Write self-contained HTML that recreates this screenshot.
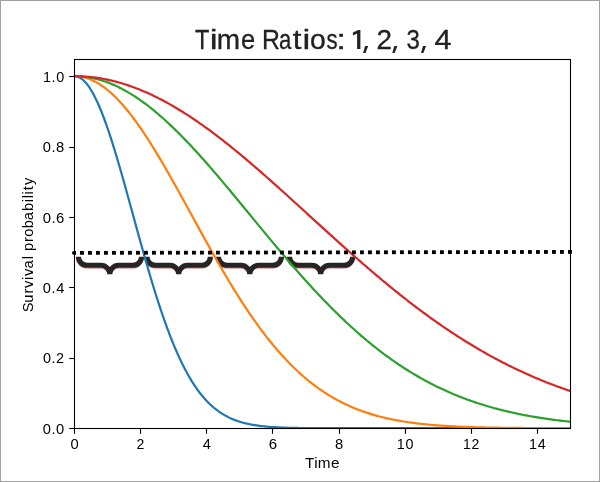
<!DOCTYPE html>
<html><head><meta charset="utf-8"><title>Time Ratios</title>
<style>
html,body{margin:0;padding:0;background:#fff;}
body{width:600px;height:482px;overflow:hidden;}
svg{display:block;will-change:transform;}
text{font-family:"Liberation Sans",sans-serif;}
</style></head><body>
<svg width="600" height="482" viewBox="0 0 600 482">
<rect x="0" y="0" width="600" height="482" fill="#ffffff"/>
<defs><clipPath id="ax"><rect x="74.5" y="59.5" width="496.0" height="369.0"/></clipPath></defs>
<g fill="none" stroke="#dc9a9a" stroke-width="5" stroke-linejoin="miter" stroke-linecap="butt" transform="translate(-0.2,0.9)">
<path d="M78.50,256.80 C78.50,261.49 82.39,265.30 87.20,265.30 L101.10,265.30 C105.91,265.30 109.80,268.75 109.80,273.00 C109.80,268.75 113.69,265.30 118.50,265.30 L132.80,265.30 C137.61,265.30 141.50,261.49 141.50,256.80"/>
<path d="M147.00,256.80 C147.00,261.49 150.89,265.30 155.70,265.30 L170.00,265.30 C174.81,265.30 178.70,268.75 178.70,273.00 C178.70,268.75 182.59,265.30 187.40,265.30 L201.70,265.30 C206.51,265.30 210.40,261.49 210.40,256.80"/>
<path d="M218.50,256.80 C218.50,261.49 222.39,265.30 227.20,265.30 L241.10,265.30 C245.91,265.30 249.80,268.75 249.80,273.00 C249.80,268.75 253.69,265.30 258.50,265.30 L272.70,265.30 C277.51,265.30 281.40,261.49 281.40,256.80"/>
<path d="M289.50,256.80 C289.50,261.49 293.39,265.30 298.20,265.30 L312.00,265.30 C316.81,265.30 320.70,268.75 320.70,273.00 C320.70,268.75 324.59,265.30 329.40,265.30 L344.00,265.30 C348.81,265.30 352.70,261.49 352.70,256.80"/>
</g>
<g fill="none" stroke="#262424" stroke-width="5.1" stroke-linejoin="miter" stroke-linecap="butt">
<path d="M78.50,256.80 C78.50,261.49 82.39,265.30 87.20,265.30 L101.10,265.30 C105.91,265.30 109.80,269.33 109.80,274.30 C109.80,269.33 113.69,265.30 118.50,265.30 L132.80,265.30 C137.61,265.30 141.50,261.49 141.50,256.80"/>
<path d="M147.00,256.80 C147.00,261.49 150.89,265.30 155.70,265.30 L170.00,265.30 C174.81,265.30 178.70,269.33 178.70,274.30 C178.70,269.33 182.59,265.30 187.40,265.30 L201.70,265.30 C206.51,265.30 210.40,261.49 210.40,256.80"/>
<path d="M218.50,256.80 C218.50,261.49 222.39,265.30 227.20,265.30 L241.10,265.30 C245.91,265.30 249.80,269.33 249.80,274.30 C249.80,269.33 253.69,265.30 258.50,265.30 L272.70,265.30 C277.51,265.30 281.40,261.49 281.40,256.80"/>
<path d="M289.50,256.80 C289.50,261.49 293.39,265.30 298.20,265.30 L312.00,265.30 C316.81,265.30 320.70,269.33 320.70,274.30 C320.70,269.33 324.59,265.30 329.40,265.30 L344.00,265.30 C348.81,265.30 352.70,261.49 352.70,256.80"/>
</g>
<g clip-path="url(#ax)" fill="none" stroke-width="2.2" stroke-linejoin="round" stroke-linecap="butt">
<polyline stroke="#1f77b4" points="74.50,76.20 76.15,76.34 77.81,76.76 79.46,77.46 81.11,78.45 82.77,79.70 84.42,81.23 86.07,83.03 87.73,85.10 89.38,87.42 91.03,90.00 92.69,92.83 94.34,95.90 95.99,99.21 97.65,102.74 99.30,106.50 100.95,110.46 102.61,114.63 104.26,118.99 105.91,123.53 107.57,128.25 109.22,133.12 110.87,138.16 112.53,143.33 114.18,148.64 115.83,154.06 117.49,159.60 119.14,165.23 120.79,170.95 122.45,176.75 124.10,182.62 125.75,188.54 127.41,194.50 129.06,200.50 130.71,206.52 132.37,212.56 134.02,218.59 135.67,224.63 137.33,230.64 138.98,236.63 140.63,242.59 142.29,248.51 143.94,254.38 145.59,260.19 147.25,265.93 148.90,271.61 150.55,277.21 152.21,282.72 153.86,288.15 155.51,293.48 157.17,298.71 158.82,303.83 160.47,308.85 162.13,313.76 163.78,318.56 165.43,323.23 167.09,327.79 168.74,332.23 170.39,336.55 172.05,340.74 173.70,344.80 175.35,348.74 177.01,352.56 178.66,356.25 180.31,359.81 181.97,363.25 183.62,366.56 185.27,369.76 186.93,372.83 188.58,375.78 190.23,378.62 191.89,381.34 193.54,383.94 195.19,386.44 196.85,388.82 198.50,391.10 200.15,393.27 201.81,395.35 203.46,397.32 205.11,399.20 206.77,400.99 208.42,402.69 210.07,404.30 211.73,405.82 213.38,407.27 215.03,408.64 216.69,409.93 218.34,411.15 219.99,412.30 221.65,413.39 223.30,414.41 224.95,415.38 226.61,416.28 228.26,417.13 229.91,417.93 231.57,418.68 233.22,419.38 234.87,420.03 236.53,420.65 238.18,421.22 239.83,421.75 241.49,422.25 243.14,422.71 244.79,423.15 246.45,423.55 248.10,423.92 249.75,424.27 251.41,424.59 253.06,424.89 254.71,425.16 256.37,425.42 258.02,425.65 259.67,425.87 261.33,426.07 262.98,426.26 264.63,426.43 266.29,426.58 267.94,426.73 269.59,426.86 271.25,426.98 272.90,427.09 274.55,427.19 276.21,427.29 277.86,427.37 279.51,427.45 281.17,427.52 282.82,427.59 284.47,427.64 286.13,427.70 287.78,427.75 289.43,427.79 291.09,427.83 292.74,427.87 294.39,427.90 296.05,427.93 297.70,427.96 299.35,427.98 301.01,428.01 302.66,428.03 304.31,428.05 305.97,428.06 307.62,428.08 309.27,428.09 310.93,428.10 312.58,428.11 314.23,428.12 315.89,428.13 317.54,428.14 319.19,428.14 320.85,428.15 322.50,428.16 324.15,428.16 325.81,428.17 327.46,428.17 329.11,428.17 330.77,428.18 332.42,428.18 334.07,428.18 335.73,428.18 337.38,428.19 339.03,428.19 340.69,428.19 342.34,428.19 343.99,428.19 345.65,428.19 347.30,428.19 348.95,428.19 350.61,428.19 352.26,428.20 353.91,428.20 355.57,428.20 357.22,428.20 358.87,428.20 360.53,428.20 362.18,428.20 363.83,428.20 365.49,428.20 367.14,428.20 368.79,428.20 370.45,428.20 372.10,428.20 373.75,428.20 375.41,428.20 377.06,428.20 378.71,428.20 380.37,428.20 382.02,428.20 383.67,428.20 385.33,428.20 386.98,428.20 388.63,428.20 390.29,428.20 391.94,428.20 393.59,428.20 395.25,428.20 396.90,428.20 398.55,428.20 400.21,428.20 401.86,428.20 403.51,428.20 405.17,428.20 406.82,428.20 408.47,428.20 410.13,428.20 411.78,428.20 413.43,428.20 415.09,428.20 416.74,428.20 418.39,428.20 420.05,428.20 421.70,428.20 423.35,428.20 425.01,428.20 426.66,428.20 428.31,428.20 429.97,428.20 431.62,428.20 433.27,428.20 434.93,428.20 436.58,428.20 438.23,428.20 439.89,428.20 441.54,428.20 443.19,428.20 444.85,428.20 446.50,428.20 448.15,428.20 449.81,428.20 451.46,428.20 453.11,428.20 454.77,428.20 456.42,428.20 458.07,428.20 459.73,428.20 461.38,428.20 463.03,428.20 464.69,428.20 466.34,428.20 467.99,428.20 469.65,428.20 471.30,428.20 472.95,428.20 474.61,428.20 476.26,428.20 477.91,428.20 479.57,428.20 481.22,428.20 482.87,428.20 484.53,428.20 486.18,428.20 487.83,428.20 489.49,428.20 491.14,428.20 492.79,428.20 494.45,428.20 496.10,428.20 497.75,428.20 499.41,428.20 501.06,428.20 502.71,428.20 504.37,428.20 506.02,428.20 507.67,428.20 509.33,428.20 510.98,428.20 512.63,428.20 514.29,428.20 515.94,428.20 517.59,428.20 519.25,428.20 520.90,428.20 522.55,428.20 524.21,428.20 525.86,428.20 527.51,428.20 529.17,428.20 530.82,428.20 532.47,428.20 534.13,428.20 535.78,428.20 537.43,428.20 539.09,428.20 540.74,428.20 542.39,428.20 544.05,428.20 545.70,428.20 547.35,428.20 549.01,428.20 550.66,428.20 552.31,428.20 553.97,428.20 555.62,428.20 557.27,428.20 558.93,428.20 560.58,428.20 562.23,428.20 563.89,428.20 565.54,428.20 567.19,428.20 568.85,428.20 570.50,428.20"/>
<polyline stroke="#ff7f0e" points="74.50,76.20 76.15,76.24 77.81,76.34 79.46,76.52 81.11,76.76 82.77,77.08 84.42,77.46 86.07,77.92 87.73,78.45 89.38,79.04 91.03,79.70 92.69,80.43 94.34,81.23 95.99,82.10 97.65,83.03 99.30,84.03 100.95,85.10 102.61,86.23 104.26,87.42 105.91,88.68 107.57,90.00 109.22,91.39 110.87,92.83 112.53,94.34 114.18,95.90 115.83,97.53 117.49,99.21 119.14,100.95 120.79,102.74 122.45,104.59 124.10,106.50 125.75,108.45 127.41,110.46 129.06,112.52 130.71,114.63 132.37,116.78 134.02,118.99 135.67,121.24 137.33,123.53 138.98,125.87 140.63,128.25 142.29,130.67 143.94,133.12 145.59,135.62 147.25,138.16 148.90,140.73 150.55,143.33 152.21,145.97 153.86,148.64 155.51,151.33 157.17,154.06 158.82,156.82 160.47,159.60 162.13,162.40 163.78,165.23 165.43,168.08 167.09,170.95 168.74,173.84 170.39,176.75 172.05,179.68 173.70,182.62 175.35,185.57 177.01,188.54 178.66,191.51 180.31,194.50 181.97,197.50 183.62,200.50 185.27,203.51 186.93,206.52 188.58,209.54 190.23,212.56 191.89,215.57 193.54,218.59 195.19,221.61 196.85,224.63 198.50,227.64 200.15,230.64 201.81,233.64 203.46,236.63 205.11,239.62 206.77,242.59 208.42,245.56 210.07,248.51 211.73,251.45 213.38,254.38 215.03,257.29 216.69,260.19 218.34,263.07 219.99,265.93 221.65,268.78 223.30,271.61 224.95,274.42 226.61,277.21 228.26,279.98 229.91,282.72 231.57,285.44 233.22,288.15 234.87,290.82 236.53,293.48 238.18,296.10 239.83,298.71 241.49,301.28 243.14,303.83 244.79,306.36 246.45,308.85 248.10,311.32 249.75,313.76 251.41,316.17 253.06,318.56 254.71,320.91 256.37,323.23 258.02,325.53 259.67,327.79 261.33,330.03 262.98,332.23 264.63,334.40 266.29,336.55 267.94,338.66 269.59,340.74 271.25,342.78 272.90,344.80 274.55,346.79 276.21,348.74 277.86,350.66 279.51,352.56 281.17,354.42 282.82,356.25 284.47,358.04 286.13,359.81 287.78,361.54 289.43,363.25 291.09,364.92 292.74,366.56 294.39,368.18 296.05,369.76 297.70,371.31 299.35,372.83 301.01,374.32 302.66,375.78 304.31,377.22 305.97,378.62 307.62,379.99 309.27,381.34 310.93,382.65 312.58,383.94 314.23,385.20 315.89,386.44 317.54,387.64 319.19,388.82 320.85,389.97 322.50,391.10 324.15,392.20 325.81,393.27 327.46,394.32 329.11,395.35 330.77,396.35 332.42,397.32 334.07,398.27 335.73,399.20 337.38,400.11 339.03,400.99 340.69,401.85 342.34,402.69 343.99,403.50 345.65,404.30 347.30,405.07 348.95,405.82 350.61,406.56 352.26,407.27 353.91,407.96 355.57,408.64 357.22,409.29 358.87,409.93 360.53,410.55 362.18,411.15 363.83,411.74 365.49,412.30 367.14,412.86 368.79,413.39 370.45,413.91 372.10,414.41 373.75,414.90 375.41,415.38 377.06,415.84 378.71,416.28 380.37,416.71 382.02,417.13 383.67,417.54 385.33,417.93 386.98,418.31 388.63,418.68 390.29,419.03 391.94,419.38 393.59,419.71 395.25,420.03 396.90,420.35 398.55,420.65 400.21,420.94 401.86,421.22 403.51,421.49 405.17,421.75 406.82,422.01 408.47,422.25 410.13,422.49 411.78,422.71 413.43,422.93 415.09,423.15 416.74,423.35 418.39,423.55 420.05,423.74 421.70,423.92 423.35,424.10 425.01,424.27 426.66,424.43 428.31,424.59 429.97,424.74 431.62,424.89 433.27,425.03 434.93,425.16 436.58,425.29 438.23,425.42 439.89,425.54 441.54,425.65 443.19,425.76 444.85,425.87 446.50,425.97 448.15,426.07 449.81,426.16 451.46,426.26 453.11,426.34 454.77,426.43 456.42,426.51 458.07,426.58 459.73,426.66 461.38,426.73 463.03,426.79 464.69,426.86 466.34,426.92 467.99,426.98 469.65,427.04 471.30,427.09 472.95,427.14 474.61,427.19 476.26,427.24 477.91,427.29 479.57,427.33 481.22,427.37 482.87,427.41 484.53,427.45 486.18,427.49 487.83,427.52 489.49,427.55 491.14,427.59 492.79,427.62 494.45,427.64 496.10,427.67 497.75,427.70 499.41,427.72 501.06,427.75 502.71,427.77 504.37,427.79 506.02,427.81 507.67,427.83 509.33,427.85 510.98,427.87 512.63,427.89 514.29,427.90 515.94,427.92 517.59,427.93 519.25,427.95 520.90,427.96 522.55,427.97 524.21,427.98 525.86,428.00 527.51,428.01 529.17,428.02 530.82,428.03 532.47,428.04 534.13,428.05 535.78,428.05 537.43,428.06 539.09,428.07 540.74,428.08 542.39,428.08 544.05,428.09 545.70,428.10 547.35,428.10 549.01,428.11 550.66,428.11 552.31,428.12 553.97,428.12 555.62,428.13 557.27,428.13 558.93,428.13 560.58,428.14 562.23,428.14 563.89,428.14 565.54,428.15 567.19,428.15 568.85,428.15 570.50,428.16"/>
<polyline stroke="#2ca02c" points="74.50,76.20 76.15,76.22 77.81,76.26 79.46,76.34 81.11,76.45 82.77,76.59 84.42,76.76 86.07,76.97 87.73,77.20 89.38,77.46 91.03,77.76 92.69,78.09 94.34,78.45 95.99,78.83 97.65,79.25 99.30,79.70 100.95,80.18 102.61,80.69 104.26,81.23 105.91,81.80 107.57,82.40 109.22,83.03 110.87,83.69 112.53,84.38 114.18,85.10 115.83,85.84 117.49,86.62 119.14,87.42 120.79,88.25 122.45,89.11 124.10,90.00 125.75,90.92 127.41,91.86 129.06,92.83 130.71,93.83 132.37,94.85 134.02,95.90 135.67,96.98 137.33,98.08 138.98,99.21 140.63,100.36 142.29,101.54 143.94,102.74 145.59,103.97 147.25,105.22 148.90,106.50 150.55,107.79 152.21,109.12 153.86,110.46 155.51,111.83 157.17,113.22 158.82,114.63 160.47,116.06 162.13,117.51 163.78,118.99 165.43,120.48 167.09,122.00 168.74,123.53 170.39,125.08 172.05,126.65 173.70,128.25 175.35,129.85 177.01,131.48 178.66,133.12 180.31,134.79 181.97,136.46 183.62,138.16 185.27,139.87 186.93,141.59 188.58,143.33 190.23,145.08 191.89,146.85 193.54,148.64 195.19,150.43 196.85,152.24 198.50,154.06 200.15,155.90 201.81,157.74 203.46,159.60 205.11,161.47 206.77,163.34 208.42,165.23 210.07,167.13 211.73,169.04 213.38,170.95 215.03,172.88 216.69,174.81 218.34,176.75 219.99,178.70 221.65,180.66 223.30,182.62 224.95,184.59 226.61,186.56 228.26,188.54 229.91,190.52 231.57,192.51 233.22,194.50 234.87,196.50 236.53,198.50 238.18,200.50 239.83,202.50 241.49,204.51 243.14,206.52 244.79,208.53 246.45,210.54 248.10,212.56 249.75,214.57 251.41,216.58 253.06,218.59 254.71,220.61 256.37,222.62 258.02,224.63 259.67,226.63 261.33,228.64 262.98,230.64 264.63,232.64 266.29,234.64 267.94,236.63 269.59,238.62 271.25,240.61 272.90,242.59 274.55,244.57 276.21,246.54 277.86,248.51 279.51,250.47 281.17,252.43 282.82,254.38 284.47,256.32 286.13,258.26 287.78,260.19 289.43,262.11 291.09,264.03 292.74,265.93 294.39,267.83 296.05,269.73 297.70,271.61 299.35,273.48 301.01,275.35 302.66,277.21 304.31,279.05 305.97,280.89 307.62,282.72 309.27,284.54 310.93,286.35 312.58,288.15 314.23,289.93 315.89,291.71 317.54,293.48 319.19,295.23 320.85,296.97 322.50,298.71 324.15,300.43 325.81,302.14 327.46,303.83 329.11,305.52 330.77,307.19 332.42,308.85 334.07,310.50 335.73,312.14 337.38,313.76 339.03,315.37 340.69,316.97 342.34,318.56 343.99,320.13 345.65,321.69 347.30,323.23 348.95,324.77 350.61,326.29 352.26,327.79 353.91,329.29 355.57,330.76 357.22,332.23 358.87,333.68 360.53,335.12 362.18,336.55 363.83,337.96 365.49,339.35 367.14,340.74 368.79,342.10 370.45,343.46 372.10,344.80 373.75,346.13 375.41,347.44 377.06,348.74 378.71,350.03 380.37,351.30 382.02,352.56 383.67,353.80 385.33,355.03 386.98,356.25 388.63,357.45 390.29,358.64 391.94,359.81 393.59,360.97 395.25,362.12 396.90,363.25 398.55,364.37 400.21,365.47 401.86,366.56 403.51,367.64 405.17,368.71 406.82,369.76 408.47,370.80 410.13,371.82 411.78,372.83 413.43,373.83 415.09,374.81 416.74,375.78 418.39,376.74 420.05,377.69 421.70,378.62 423.35,379.54 425.01,380.44 426.66,381.34 428.31,382.22 429.97,383.09 431.62,383.94 433.27,384.79 434.93,385.62 436.58,386.44 438.23,387.24 439.89,388.04 441.54,388.82 443.19,389.59 444.85,390.35 446.50,391.10 448.15,391.84 449.81,392.56 451.46,393.27 453.11,393.98 454.77,394.67 456.42,395.35 458.07,396.02 459.73,396.67 461.38,397.32 463.03,397.96 464.69,398.59 466.34,399.20 467.99,399.81 469.65,400.40 471.30,400.99 472.95,401.56 474.61,402.13 476.26,402.69 477.91,403.23 479.57,403.77 481.22,404.30 482.87,404.81 484.53,405.32 486.18,405.82 487.83,406.31 489.49,406.80 491.14,407.27 492.79,407.73 494.45,408.19 496.10,408.64 497.75,409.08 499.41,409.51 501.06,409.93 502.71,410.35 504.37,410.75 506.02,411.15 507.67,411.54 509.33,411.93 510.98,412.30 512.63,412.67 514.29,413.04 515.94,413.39 517.59,413.74 519.25,414.08 520.90,414.41 522.55,414.74 524.21,415.06 525.86,415.38 527.51,415.69 529.17,415.99 530.82,416.28 532.47,416.57 534.13,416.85 535.78,417.13 537.43,417.40 539.09,417.67 540.74,417.93 542.39,418.18 544.05,418.43 545.70,418.68 547.35,418.92 549.01,419.15 550.66,419.38 552.31,419.60 553.97,419.82 555.62,420.03 557.27,420.24 558.93,420.45 560.58,420.65 562.23,420.84 563.89,421.03 565.54,421.22 567.19,421.40 568.85,421.58 570.50,421.75"/>
<polyline stroke="#d62728" points="74.50,76.20 76.15,76.21 77.81,76.24 79.46,76.28 81.11,76.34 82.77,76.42 84.42,76.52 86.07,76.63 87.73,76.76 89.38,76.91 91.03,77.08 92.69,77.26 94.34,77.46 95.99,77.68 97.65,77.92 99.30,78.17 100.95,78.45 102.61,78.73 104.26,79.04 105.91,79.36 107.57,79.70 109.22,80.06 110.87,80.43 112.53,80.82 114.18,81.23 115.83,81.66 117.49,82.10 119.14,82.56 120.79,83.03 122.45,83.52 124.10,84.03 125.75,84.56 127.41,85.10 129.06,85.65 130.71,86.23 132.37,86.82 134.02,87.42 135.67,88.04 137.33,88.68 138.98,89.33 140.63,90.00 142.29,90.69 143.94,91.39 145.59,92.10 147.25,92.83 148.90,93.58 150.55,94.34 152.21,95.11 153.86,95.90 155.51,96.71 157.17,97.53 158.82,98.36 160.47,99.21 162.13,100.07 163.78,100.95 165.43,101.84 167.09,102.74 168.74,103.66 170.39,104.59 172.05,105.54 173.70,106.50 175.35,107.47 177.01,108.45 178.66,109.45 180.31,110.46 181.97,111.48 183.62,112.52 185.27,113.57 186.93,114.63 188.58,115.70 190.23,116.78 191.89,117.88 193.54,118.99 195.19,120.11 196.85,121.24 198.50,122.38 200.15,123.53 201.81,124.69 203.46,125.87 205.11,127.05 206.77,128.25 208.42,129.45 210.07,130.67 211.73,131.89 213.38,133.12 215.03,134.37 216.69,135.62 218.34,136.88 219.99,138.16 221.65,139.44 223.30,140.73 224.95,142.02 226.61,143.33 228.26,144.64 229.91,145.97 231.57,147.30 233.22,148.64 234.87,149.98 236.53,151.33 238.18,152.69 239.83,154.06 241.49,155.44 243.14,156.82 244.79,158.20 246.45,159.60 248.10,161.00 249.75,162.40 251.41,163.82 253.06,165.23 254.71,166.66 256.37,168.08 258.02,169.52 259.67,170.95 261.33,172.40 262.98,173.84 264.63,175.30 266.29,176.75 267.94,178.21 269.59,179.68 271.25,181.15 272.90,182.62 274.55,184.09 276.21,185.57 277.86,187.05 279.51,188.54 281.17,190.02 282.82,191.51 284.47,193.01 286.13,194.50 287.78,196.00 289.43,197.50 291.09,199.00 292.74,200.50 294.39,202.00 296.05,203.51 297.70,205.01 299.35,206.52 301.01,208.03 302.66,209.54 304.31,211.05 305.97,212.56 307.62,214.07 309.27,215.57 310.93,217.08 312.58,218.59 314.23,220.10 315.89,221.61 317.54,223.12 319.19,224.63 320.85,226.13 322.50,227.64 324.15,229.14 325.81,230.64 327.46,232.14 329.11,233.64 330.77,235.14 332.42,236.63 334.07,238.13 335.73,239.62 337.38,241.11 339.03,242.59 340.69,244.08 342.34,245.56 343.99,247.04 345.65,248.51 347.30,249.98 348.95,251.45 350.61,252.92 352.26,254.38 353.91,255.84 355.57,257.29 357.22,258.74 358.87,260.19 360.53,261.63 362.18,263.07 363.83,264.50 365.49,265.93 367.14,267.36 368.79,268.78 370.45,270.20 372.10,271.61 373.75,273.02 375.41,274.42 377.06,275.82 378.71,277.21 380.37,278.59 382.02,279.98 383.67,281.35 385.33,282.72 386.98,284.09 388.63,285.44 390.29,286.80 391.94,288.15 393.59,289.49 395.25,290.82 396.90,292.15 398.55,293.48 400.21,294.79 401.86,296.10 403.51,297.41 405.17,298.71 406.82,300.00 408.47,301.28 410.13,302.56 411.78,303.83 413.43,305.10 415.09,306.36 416.74,307.61 418.39,308.85 420.05,310.09 421.70,311.32 423.35,312.55 425.01,313.76 426.66,314.97 428.31,316.17 429.97,317.37 431.62,318.56 433.27,319.74 434.93,320.91 436.58,322.08 438.23,323.23 439.89,324.39 441.54,325.53 443.19,326.66 444.85,327.79 446.50,328.91 448.15,330.03 449.81,331.13 451.46,332.23 453.11,333.32 454.77,334.40 456.42,335.48 458.07,336.55 459.73,337.60 461.38,338.66 463.03,339.70 464.69,340.74 466.34,341.76 467.99,342.78 469.65,343.80 471.30,344.80 472.95,345.80 474.61,346.79 476.26,347.77 477.91,348.74 479.57,349.71 481.22,350.66 482.87,351.61 484.53,352.56 486.18,353.49 487.83,354.42 489.49,355.34 491.14,356.25 492.79,357.15 494.45,358.04 496.10,358.93 497.75,359.81 499.41,360.68 501.06,361.54 502.71,362.40 504.37,363.25 506.02,364.09 507.67,364.92 509.33,365.75 510.98,366.56 512.63,367.37 514.29,368.18 515.94,368.97 517.59,369.76 519.25,370.54 520.90,371.31 522.55,372.07 524.21,372.83 525.86,373.58 527.51,374.32 529.17,375.06 530.82,375.78 532.47,376.50 534.13,377.22 535.78,377.92 537.43,378.62 539.09,379.31 540.74,379.99 542.39,380.67 544.05,381.34 545.70,382.00 547.35,382.65 549.01,383.30 550.66,383.94 552.31,384.58 553.97,385.20 555.62,385.82 557.27,386.44 558.93,387.04 560.58,387.64 562.23,388.23 563.89,388.82 565.54,389.40 567.19,389.97 568.85,390.54 570.50,391.10"/>
</g>
<rect x="74.5" y="59.5" width="496.0" height="369.0" fill="none" stroke="#000" stroke-width="1.1"/>
<g stroke="#000" stroke-width="1.1">
<line x1="74.50" y1="428.5" x2="74.50" y2="433.80"/>
<line x1="140.50" y1="428.5" x2="140.50" y2="433.80"/>
<line x1="206.50" y1="428.5" x2="206.50" y2="433.80"/>
<line x1="272.50" y1="428.5" x2="272.50" y2="433.80"/>
<line x1="339.50" y1="428.5" x2="339.50" y2="433.80"/>
<line x1="405.50" y1="428.5" x2="405.50" y2="433.80"/>
<line x1="471.50" y1="428.5" x2="471.50" y2="433.80"/>
<line x1="537.50" y1="428.5" x2="537.50" y2="433.80"/>
<line x1="74.5" y1="428.50" x2="69.20" y2="428.50"/>
<line x1="74.5" y1="358.50" x2="69.20" y2="358.50"/>
<line x1="74.5" y1="287.50" x2="69.20" y2="287.50"/>
<line x1="74.5" y1="217.50" x2="69.20" y2="217.50"/>
<line x1="74.5" y1="147.50" x2="69.20" y2="147.50"/>
<line x1="74.5" y1="76.50" x2="69.20" y2="76.50"/>
</g>
<g fill="#000">
<text transform="translate(0,449.00) scale(1.0061,1)" x="69.97" y="0" font-size="14.6px">0</text>
<text transform="translate(0,449.00) scale(0.9670,1)" x="141.18" y="0" font-size="14.6px">2</text>
<text transform="translate(0,449.00) scale(0.9984,1)" x="203.04" y="0" font-size="14.6px">4</text>
<text transform="translate(0,449.00) scale(1.0336,1)" x="259.97" y="0" font-size="14.6px">6</text>
<text transform="translate(0,449.00) scale(1.0120,1)" x="330.95" y="0" font-size="14.6px">8</text>
<text transform="translate(0,449.00) scale(0.9827,1)" x="403.70 412.73" y="0" font-size="14.6px">10</text>
<text transform="translate(0,449.00) scale(0.9620,1)" x="481.20 490.24" y="0" font-size="14.6px">12</text>
<text transform="translate(0,449.00) scale(0.9792,1)" x="540.21 549.30" y="0" font-size="14.6px">14</text>
<text transform="translate(0,433.80) scale(1.0079,1)" x="42.52 51.13 55.67" y="0" font-size="14.6px">0.0</text>
<text transform="translate(0,363.40) scale(0.9906,1)" x="43.33 52.05 56.54" y="0" font-size="14.6px">0.2</text>
<text transform="translate(0,293.00) scale(1.0043,1)" x="42.69 51.32 55.91" y="0" font-size="14.6px">0.4</text>
<text transform="translate(0,222.60) scale(1.0202,1)" x="41.96 50.48 54.96" y="0" font-size="14.6px">0.6</text>
<text transform="translate(0,152.20) scale(1.0106,1)" x="42.40 50.98 55.53" y="0" font-size="14.6px">0.8</text>
<text transform="translate(0,81.80) scale(0.9868,1)" x="43.48 52.26 56.95" y="0" font-size="14.6px">1.0</text>
<text transform="translate(0,467.90) scale(1.0518,1)" x="290.05 298.75 302.17 314.68" y="0" font-size="14.6px">Time</text>
<g transform="translate(32.8,311.76) rotate(-90)"><text transform="translate(0,0.00) scale(1.0072,1)" x="-0.41 9.03 18.13 23.60 31.63 35.59 42.97 52.07 55.60 60.37 69.37 74.56 82.93 90.95 100.13 108.80 112.64 116.47 120.64 125.84" y="0" font-size="14.6px">Survival probability</text>
</g>
</g>
<g fill="#000">
<path d="M76,251.00 L74,251.00 Q72,251.00 72,252.90 Q72,254.80 74,254.80 L76,254.80 Z"/>
<rect x="80.00" y="250.98" width="3.9" height="3.8"/>
<rect x="88.00" y="250.97" width="3.9" height="3.8"/>
<rect x="96.00" y="250.95" width="3.9" height="3.8"/>
<rect x="104.00" y="250.94" width="3.9" height="3.8"/>
<rect x="112.00" y="250.92" width="3.9" height="3.8"/>
<rect x="120.00" y="250.90" width="3.9" height="3.8"/>
<rect x="128.00" y="250.89" width="3.9" height="3.8"/>
<rect x="136.00" y="250.87" width="3.9" height="3.8"/>
<rect x="144.00" y="250.86" width="3.9" height="3.8"/>
<rect x="152.00" y="250.84" width="3.9" height="3.8"/>
<rect x="160.00" y="250.82" width="3.9" height="3.8"/>
<rect x="168.00" y="250.81" width="3.9" height="3.8"/>
<rect x="176.00" y="250.79" width="3.9" height="3.8"/>
<rect x="184.00" y="250.78" width="3.9" height="3.8"/>
<rect x="192.00" y="250.76" width="3.9" height="3.8"/>
<rect x="200.00" y="250.74" width="3.9" height="3.8"/>
<rect x="208.00" y="250.73" width="3.9" height="3.8"/>
<rect x="216.00" y="250.71" width="3.9" height="3.8"/>
<rect x="224.00" y="250.69" width="3.9" height="3.8"/>
<rect x="232.00" y="250.68" width="3.9" height="3.8"/>
<rect x="240.00" y="250.66" width="3.9" height="3.8"/>
<rect x="248.00" y="250.65" width="3.9" height="3.8"/>
<rect x="256.00" y="250.63" width="3.9" height="3.8"/>
<rect x="264.00" y="250.61" width="3.9" height="3.8"/>
<rect x="272.00" y="250.60" width="3.9" height="3.8"/>
<rect x="280.00" y="250.58" width="3.9" height="3.8"/>
<rect x="288.00" y="250.57" width="3.9" height="3.8"/>
<rect x="296.00" y="250.55" width="3.9" height="3.8"/>
<rect x="304.00" y="250.53" width="3.9" height="3.8"/>
<rect x="312.00" y="250.52" width="3.9" height="3.8"/>
<rect x="320.00" y="250.50" width="3.9" height="3.8"/>
<rect x="328.00" y="250.49" width="3.9" height="3.8"/>
<rect x="336.00" y="250.47" width="3.9" height="3.8"/>
<rect x="344.00" y="250.45" width="3.9" height="3.8"/>
<rect x="352.00" y="250.44" width="3.9" height="3.8"/>
<rect x="360.00" y="250.42" width="3.9" height="3.8"/>
<rect x="368.00" y="250.41" width="3.9" height="3.8"/>
<rect x="376.00" y="250.39" width="3.9" height="3.8"/>
<rect x="384.00" y="250.37" width="3.9" height="3.8"/>
<rect x="392.00" y="250.36" width="3.9" height="3.8"/>
<rect x="400.00" y="250.34" width="3.9" height="3.8"/>
<rect x="408.00" y="250.33" width="3.9" height="3.8"/>
<rect x="416.00" y="250.31" width="3.9" height="3.8"/>
<rect x="424.00" y="250.29" width="3.9" height="3.8"/>
<rect x="432.00" y="250.28" width="3.9" height="3.8"/>
<rect x="440.00" y="250.26" width="3.9" height="3.8"/>
<rect x="448.00" y="250.24" width="3.9" height="3.8"/>
<rect x="456.00" y="250.23" width="3.9" height="3.8"/>
<rect x="464.00" y="250.21" width="3.9" height="3.8"/>
<rect x="472.00" y="250.20" width="3.9" height="3.8"/>
<rect x="480.00" y="250.18" width="3.9" height="3.8"/>
<rect x="488.00" y="250.16" width="3.9" height="3.8"/>
<rect x="496.00" y="250.15" width="3.9" height="3.8"/>
<rect x="504.00" y="250.13" width="3.9" height="3.8"/>
<rect x="512.00" y="250.12" width="3.9" height="3.8"/>
<rect x="520.00" y="250.10" width="3.9" height="3.8"/>
<rect x="528.00" y="250.08" width="3.9" height="3.8"/>
<rect x="536.00" y="250.07" width="3.9" height="3.8"/>
<rect x="544.00" y="250.05" width="3.9" height="3.8"/>
<rect x="552.00" y="250.04" width="3.9" height="3.8"/>
<rect x="560.00" y="250.02" width="3.9" height="3.8"/>
<rect x="568.00" y="250.00" width="3.9" height="3.8"/>
</g>
<g fill="#222" stroke="#222" stroke-width="0.3" stroke-linejoin="round" font-size="27.1px">
<text transform="translate(195.07,48.7) scale(0.869,1)">T</text>
<text transform="translate(209.63,48.7) scale(1.300,1)">i</text>
<text transform="translate(216.81,48.7) scale(1.033,1)">m</text>
<text transform="translate(240.91,48.7) scale(0.942,1)">e</text>
<text transform="translate(261.95,48.7) scale(0.916,1)">R</text>
<text transform="translate(279.01,48.7) scale(0.820,1)">a</text>
<text transform="translate(292.83,48.7) scale(1.158,1)">t</text>
<text transform="translate(302.43,48.7) scale(1.300,1)">i</text>
<text transform="translate(310.09,48.7) scale(1.046,1)">o</text>
<text transform="translate(326.53,48.7) scale(0.820,1)">s</text>
<text transform="translate(336.37,48.7) scale(1.300,1)">:</text>
<text transform="translate(376.60,48.7) scale(1.030,1)">2</text>
<text transform="translate(406.40,48.7) scale(0.886,1)">3</text>
<text transform="translate(434.61,48.7) scale(1.125,1)">4</text>
</g>
<g fill="#222">
<path d="M360.4,29.9 L360.4,48.9 L357.1,48.9 L357.1,33.4 L352.9,35.4 L352.9,32.4 L358.2,29.9 Z"/>
<path d="M365.10,46.1 L368.20,46.1 L365.50,53.0 L363.10,53.0 Z"/>
<path d="M394.30,46.1 L397.40,46.1 L394.70,53.0 L392.30,53.0 Z"/>
<path d="M423.00,46.1 L426.10,46.1 L423.40,53.0 L421.00,53.0 Z"/>
</g>
<rect x="0.5" y="0.5" width="599" height="481" fill="none" stroke="#a0a0a0" stroke-width="1"/>
</svg>
</body></html>
